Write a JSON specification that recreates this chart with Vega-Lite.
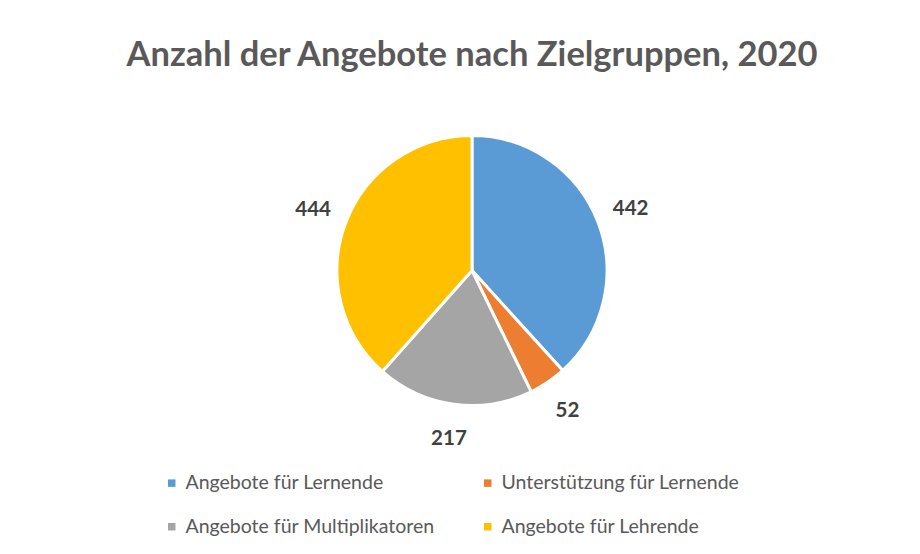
{
  "$schema": "https://vega.github.io/schema/vega-lite/v6.json",
  "width": 920,
  "height": 554,
  "autosize": {"type": "fit", "contains": "padding"},
  "padding": {"left": 24, "right": 0, "top": 37, "bottom": 86},
  "background": "white",
  "title": {
    "text": "Anzahl der Angebote nach Zielgruppen, 2020",
    "font": "Lato",
    "fontSize": 34.5,
    "fontWeight": "bold",
    "color": "#595959",
    "anchor": "middle",
    "offset": 0
  },
  "data": {
    "values": [
      {"gruppe": "Angebote für Lernende", "anzahl": 442, "ord": 1},
      {"gruppe": "Unterstützung für Lernende", "anzahl": 52, "ord": 2},
      {"gruppe": "Angebote für Multiplikatoren", "anzahl": 217, "ord": 3},
      {"gruppe": "Angebote für Lehrende", "anzahl": 444, "ord": 4}
    ]
  },
  "encoding": {
    "theta": {"field": "anzahl", "type": "quantitative", "stack": true},
    "order": {"field": "ord", "type": "quantitative"},
    "color": {
      "field": "gruppe",
      "type": "nominal",
      "scale": {
        "domain": ["Angebote für Lernende", "Unterstützung für Lernende", "Angebote für Multiplikatoren", "Angebote für Lehrende"],
        "range": ["#5B9BD5", "#ED7D31", "#A5A5A5", "#FFC000"]
      },
      "legend": {
        "title": null,
        "orient": "none",
        "direction": "horizontal",
        "legendX": 138,
        "legendY": 400,
        "columns": 2,
        "symbolType": "square",
        "symbolSize": 56,
        "symbolStrokeWidth": 0,
        "labelFont": "Lato",
        "labelFontSize": 19.5,
        "labelColor": "#595959",
        "labelOffset": 4,
        "labelLimit": 400,
        "rowPadding": 23,
        "columnPadding": 43
      }
    }
  },
  "layer": [
    {"mark": {"type": "arc", "outerRadius": 135, "stroke": "white", "strokeWidth": 3}},
    {
      "mark": {"type": "text", "radius": 170, "font": "Lato", "fontSize": 20.5, "fontWeight": "bold"},
      "encoding": {
        "text": {"field": "anzahl", "type": "quantitative"},
        "color": {"value": "#404040"}
      }
    }
  ],
  "config": {"view": {"stroke": null}}
}
